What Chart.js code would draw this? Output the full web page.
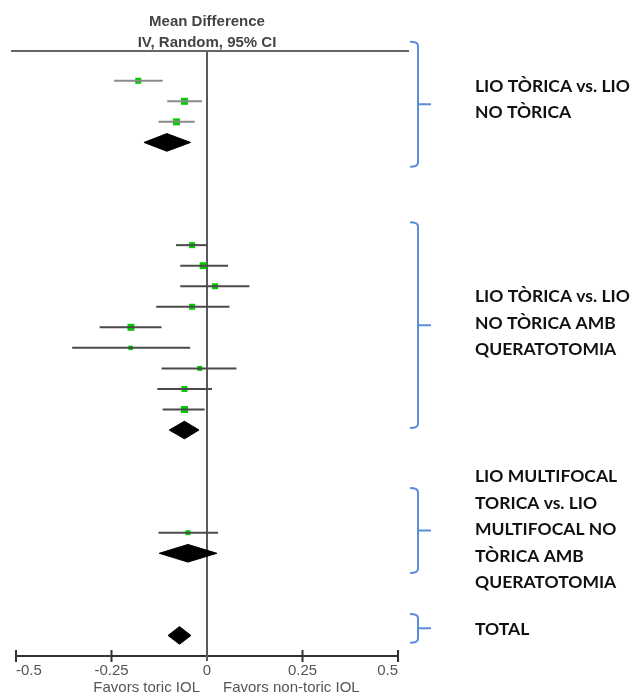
<!DOCTYPE html>
<html>
<head>
<meta charset="utf-8">
<title>Forest plot</title>
<script src="https://cdn.jsdelivr.net/npm/chart.js@4"></script>
<style>
  html, body { margin: 0; padding: 0; background: #fff; }
  canvas { display: block; }
</style>
</head>
<body>
<canvas id="forest" width="638" height="695"></canvas>
<script>
// individual studies, top to bottom (row = slot on the plot)
const studyRows  = [1, 2, 3, 9, 10, 11, 12, 13, 14, 15, 16, 17, 23];
const studyMD    = [-0.180, -0.059, -0.080, -0.039, -0.010, 0.021, -0.039, -0.199, -0.200, -0.019, -0.059, -0.059, -0.050];
const studyLow   = [-0.243, -0.104, -0.127, -0.081, -0.070, -0.070, -0.133, -0.281, -0.353, -0.119, -0.130, -0.116, -0.127];
const studyHigh  = [-0.116, -0.013, -0.032, 0.000, 0.055, 0.111, 0.059, -0.119, -0.044, 0.077, 0.013, -0.006, 0.029];
const studyGroup = [0, 0, 0, 1, 1, 1, 1, 1, 1, 1, 1, 1, 2];

// pooled estimates (diamonds)
const pooledRows = [4, 18, 24, 28];
const pooledMD   = [-0.105, -0.059, -0.050, -0.072];
const pooledLow  = [-0.165, -0.099, -0.125, -0.102];
const pooledHigh = [-0.043, -0.021, 0.026, -0.042];

const groupNames = [
    ['LIO TÒRICA vs. LIO', 'NO TÒRICA'],
    ['LIO TÒRICA vs. LIO', 'NO TÒRICA AMB', 'QUERATOTOMIA'],
    ['LIO MULTIFOCAL', 'TORICA vs. LIO', 'MULTIFOCAL NO', 'TÒRICA AMB', 'QUERATOTOMIA'],
    ['TOTAL']
];

const tickValues  = [-0.5, -0.25, 0, 0.25, 0.5];
const tickLabels  = ['-0.5', '-0.25', '0', '0.25', '0.5'];
const headerLines = ['Mean Difference', 'IV, Random, 95% CI'];
const favorsLeft  = 'Favors toric IOL';
const favorsRight = 'Favors non-toric IOL';

// sizes / layout (row units), kept apart from the values
const markerSide   = [6, 7, 7, 6, 7, 6, 6, 7, 4.5, 5, 6, 7, 5];
const ciColors     = ['#8a8a8a', '#4a4a4a', '#4a4a4a'];
const braceSpans   = [[-0.9, 5.18], [7.89, 17.9], [20.82, 24.96], [26.95, 28.35]];
const labelCenters = [1.9, 12.8, 22.85, 27.7];
const diamondHalf  = 0.43;

const datasets = [];

// confidence interval lines
studyRows.forEach((row, i) => {
    datasets.push({
        type: 'scatter',
        showLine: true,
        data: [{x: studyLow[i], y: row}, {x: studyHigh[i], y: row}],
        borderColor: ciColors[studyGroup[i]],
        borderWidth: 2,
        pointRadius: 0
    });
});

// pooled diamonds
pooledRows.forEach((row, i) => {
    datasets.push({
        type: 'scatter',
        showLine: true,
        data: [
            {x: pooledLow[i], y: row},
            {x: pooledMD[i], y: row - diamondHalf},
            {x: pooledHigh[i], y: row},
            {x: pooledMD[i], y: row + diamondHalf},
            {x: pooledLow[i], y: row}
        ],
        borderColor: '#000',
        backgroundColor: '#000',
        borderWidth: 1,
        fill: 'shape',
        pointRadius: 0,
        tension: 0
    });
});

// study point estimates
datasets.push({
    type: 'scatter',
    data: studyRows.map((row, i) => ({x: studyMD[i], y: row})),
    pointStyle: 'rect',
    pointRadius: markerSide.map(s => s / Math.SQRT2),
    backgroundColor: '#00cc00',
    borderWidth: 0
});

function drawBrace(ctx, xv, top, bottom) {
    const mid = (top + bottom) / 2;
    ctx.beginPath();
    ctx.moveTo(xv - 8, top);
    ctx.quadraticCurveTo(xv, top, xv, top + 4);
    ctx.lineTo(xv, bottom - 4);
    ctx.quadraticCurveTo(xv, bottom, xv - 8, bottom);
    ctx.moveTo(xv, mid);
    ctx.lineTo(xv + 13, mid);
    ctx.stroke();
}

const decor = {
    id: 'decor',
    beforeDatasetsDraw(chart) {
        const {ctx, chartArea: a, scales: {x}} = chart;
        const x0 = x.getPixelForValue(0);
        ctx.save();
        ctx.lineWidth = 2;
        ctx.strokeStyle = '#5a5a5a';
        ctx.beginPath();
        ctx.moveTo(x0, a.top);
        ctx.lineTo(x0, a.bottom + 5);
        ctx.stroke();
        ctx.strokeStyle = '#666';
        ctx.beginPath();
        ctx.moveTo(a.left - 5, a.top);
        ctx.lineTo(a.right + 11, a.top);
        ctx.stroke();
        ctx.restore();
    },
    afterDraw(chart) {
        const {ctx, chartArea: a, scales: {x, y}} = chart;
        const x0 = x.getPixelForValue(0);
        ctx.save();

        // tick marks across the axis
        ctx.strokeStyle = '#333';
        ctx.lineWidth = 2;
        tickValues.forEach(v => {
            if (v === 0) return;
            const px = x.getPixelForValue(v);
            ctx.beginPath();
            ctx.moveTo(px, a.bottom - 6);
            ctx.lineTo(px, a.bottom + 6);
            ctx.stroke();
        });

        // header
        ctx.fillStyle = '#444';
        ctx.font = 'bold 15px "Liberation Sans", Arial, sans-serif';
        ctx.textAlign = 'center';
        ctx.textBaseline = 'middle';
        ctx.fillText(headerLines[0], x0, 22);
        ctx.fillText(headerLines[1], x0, 43);

        // favours labels
        ctx.fillStyle = '#555';
        ctx.font = '15px "Liberation Sans", Arial, sans-serif';
        ctx.textAlign = 'right';
        ctx.fillText(favorsLeft, x0 - 7, 688);
        ctx.textAlign = 'left';
        ctx.fillText(favorsRight, x0 + 16, 688);

        // group braces and names
        ctx.strokeStyle = '#5b8ed8';
        ctx.lineWidth = 2;
        const braceX = a.right + 20;
        braceSpans.forEach(([t, b]) => {
            drawBrace(ctx, braceX, y.getPixelForValue(t), y.getPixelForValue(b));
        });
        ctx.fillStyle = '#111';
        ctx.font = 'bold 17.5px Lato, "Open Sans", sans-serif';
        ctx.textAlign = 'left';
        ctx.textBaseline = 'middle';
        const lh = 26.5;
        groupNames.forEach((lines, g) => {
            const cy = y.getPixelForValue(labelCenters[g]);
            lines.forEach((txt, j) => {
                ctx.fillText(txt, a.right + 77, cy + (j - (lines.length - 1) / 2) * lh);
            });
        });
        ctx.restore();
    }
};

new Chart(document.getElementById('forest'), {
    type: 'scatter',
    data: {datasets},
    options: {
        responsive: false,
        animation: false,
        layout: {padding: {left: 16, right: 240, top: 51, bottom: 0}},
        plugins: {legend: {display: false}, tooltip: {enabled: false}},
        scales: {
            x: {
                type: 'linear',
                min: -0.5,
                max: 0.5,
                afterBuildTicks: s => { s.ticks = tickValues.map(v => ({value: v})); },
                afterFit: s => { s.height = 39; },
                ticks: {
                    align: 'inner',
                    padding: 6,
                    color: '#555',
                    font: {family: '"Liberation Sans", Arial, sans-serif', size: 15},
                    callback: (v, i) => tickLabels[i]
                },
                grid: {color: 'rgba(0,0,0,0)', drawTicks: false, drawOnChartArea: false},
                border: {display: true, color: '#333', width: 2}
            },
            y: {
                type: 'linear',
                display: false,
                min: -0.45,
                max: 29,
                reverse: true
            }
        }
    },
    plugins: [decor]
});
</script>
</body>
</html>
